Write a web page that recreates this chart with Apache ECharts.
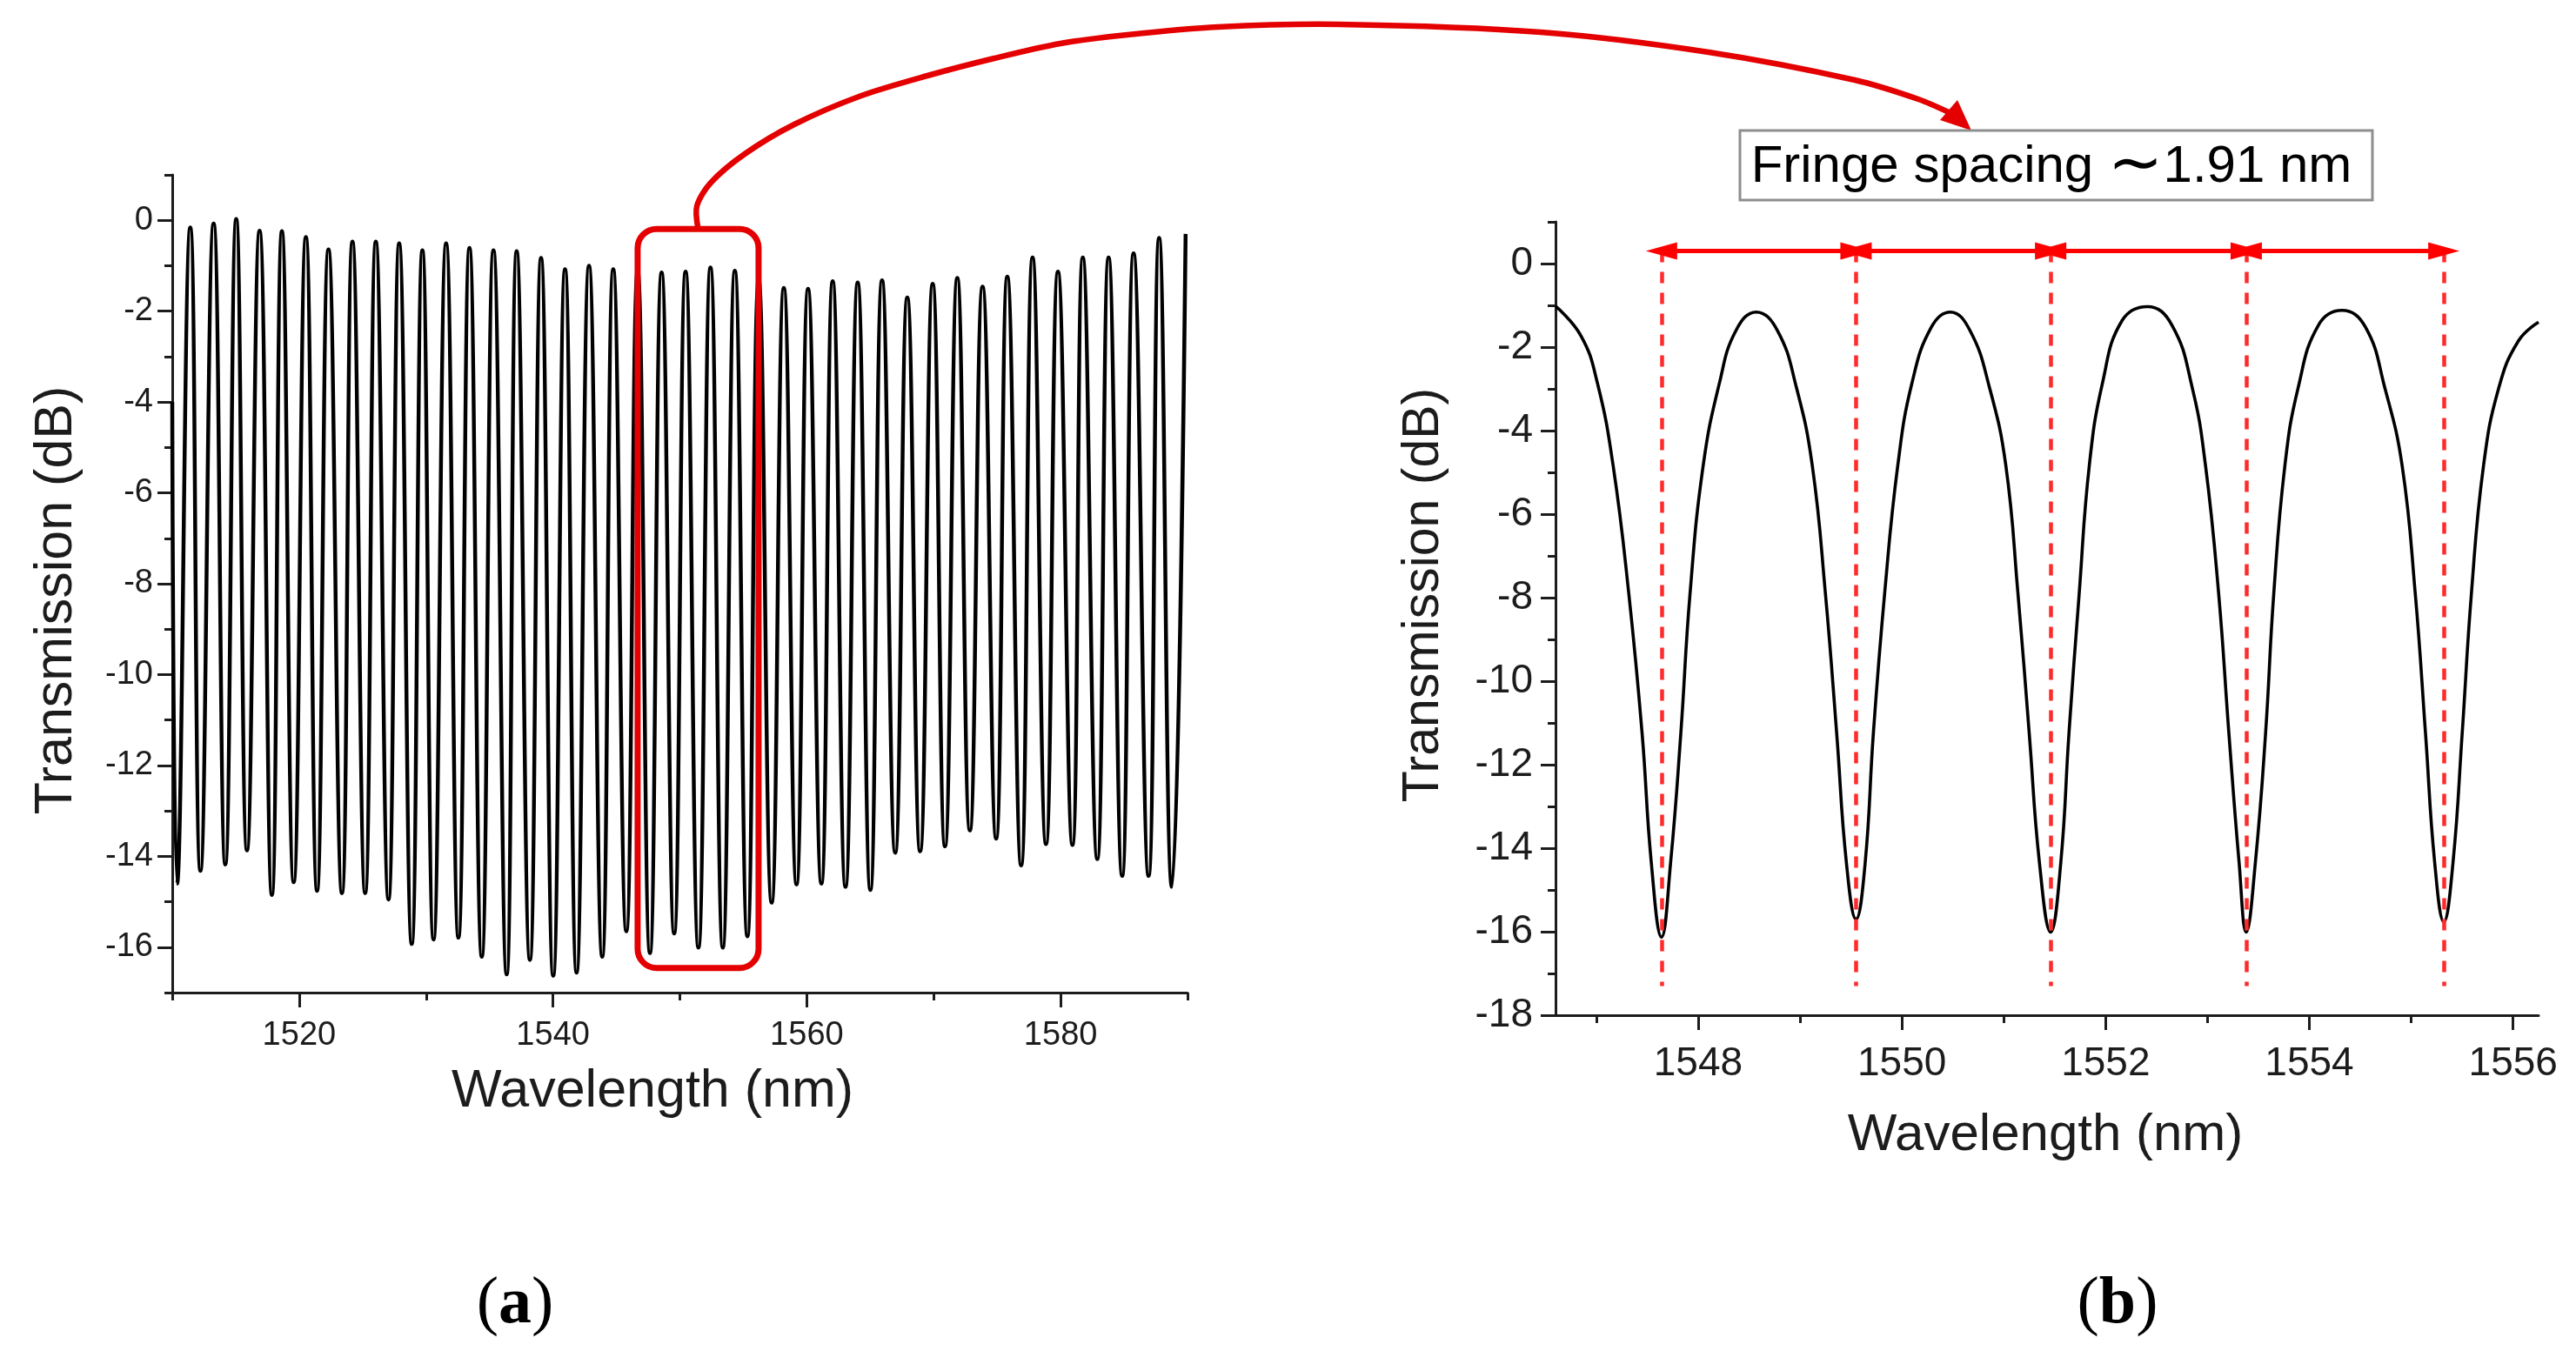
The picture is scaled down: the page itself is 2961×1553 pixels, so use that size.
<!DOCTYPE html>
<html>
<head>
<meta charset="utf-8">
<title>Transmission spectrum</title>
<script src="https://cdn.jsdelivr.net/npm/echarts@6/dist/echarts.min.js"></script>
<style>
  html, body { margin: 0; padding: 0; background: #fff; }
  #main { width: 2961px; height: 1553px; }
</style>
</head>
<body>
<div id="main"></div>
<script>
"use strict";

// (a) whole spectrum, fringe tops and bottoms
const peakWl = [1511.42, 1513.26, 1515.04, 1516.88, 1518.64, 1520.53, 1522.31, 1524.20, 1526.04, 1527.88,
  1529.71, 1531.58, 1533.42, 1535.31, 1537.14, 1539.06, 1540.95, 1542.84, 1544.75, 1546.67,
  1548.56, 1550.45, 1552.41, 1554.33, 1556.21, 1558.19, 1560.10, 1562.04, 1564.01, 1565.93,
  1567.92, 1569.92, 1571.86, 1573.85, 1575.80, 1577.79, 1579.79, 1581.75, 1583.78, 1585.75, 1587.76];
const peakDb = [-0.16, -0.07, 0.03, -0.23, -0.24, -0.37, -0.64, -0.47, -0.47, -0.51,
  -0.66, -0.51, -0.61, -0.66, -0.68, -0.83, -1.08, -1.00, -1.08, -1.10,
  -1.15, -1.13, -1.04, -1.11, -1.30, -1.49, -1.51, -1.34, -1.37, -1.32,
  -1.70, -1.40, -1.27, -1.46, -1.24, -0.82, -1.13, -0.82, -0.82, -0.73, -0.39];
const dipWl = [1510.38, 1512.22, 1514.18, 1515.89, 1517.85, 1519.57, 1521.41, 1523.37, 1525.20, 1527.04,
  1528.87, 1530.59, 1532.55, 1534.39, 1536.35, 1538.18, 1540.02, 1541.86, 1543.88, 1545.78,
  1547.64, 1549.55, 1551.46, 1553.38, 1555.32, 1557.23, 1559.19, 1561.15, 1563.05, 1565.01,
  1566.97, 1568.93, 1570.89, 1572.85, 1574.92, 1576.89, 1578.85, 1580.93, 1582.89, 1584.85,
  1586.93, 1588.77];
const dipDb = [-14.60, -14.32, -14.18, -13.87, -14.85, -14.57, -14.76, -14.81, -14.81, -14.95,
  -15.93, -15.83, -15.79, -16.21, -16.60, -16.28, -16.63, -16.56, -16.21, -15.65,
  -16.13, -15.70, -16.01, -16.01, -15.76, -15.02, -14.62, -14.60, -14.67, -14.74,
  -13.92, -13.89, -13.78, -13.43, -13.61, -14.20, -13.73, -13.75, -14.06, -14.43,
  -14.43, -14.67];
const edgeWl = [1510.0, 1589.85];
const edgeDb = [-4.0, -0.30];

// (b) close-up of 1546.6 - 1556.25 nm
const zoomWl = [1546.60, 1546.85, 1547.01, 1547.165, 1547.32, 1547.45, 1547.54, 1547.64, 1547.73, 1547.83,
  1547.92, 1548.05, 1548.21, 1548.37, 1548.57, 1548.78, 1548.965, 1549.12, 1549.25, 1549.36,
  1549.455, 1549.55, 1549.64, 1549.72, 1549.83, 1549.96, 1550.10, 1550.29, 1550.475, 1550.67,
  1550.86, 1551.02, 1551.14, 1551.25, 1551.35, 1551.46, 1551.56, 1551.64, 1551.74, 1551.84,
  1551.97, 1552.16, 1552.41, 1552.65, 1552.85, 1552.98, 1553.11, 1553.21, 1553.31, 1553.38,
  1553.47, 1553.57, 1553.65, 1553.76, 1553.89, 1554.09, 1554.32, 1554.55, 1554.74, 1554.91,
  1555.04, 1555.14, 1555.23, 1555.32, 1555.41, 1555.50, 1555.59, 1555.71, 1555.86, 1556.05, 1556.25];
const zoomDb = [-1.02, -1.73, -2.85, -4.83, -7.92, -11.25, -14.34, -16.13, -14.34, -11.25,
  -7.92, -4.83, -2.85, -1.61, -1.16, -1.61, -2.97, -4.83, -7.92, -11.25,
  -14.34, -15.70, -14.34, -11.25, -7.92, -4.83, -2.85, -1.52, -1.16, -1.61,
  -2.97, -4.83, -7.92, -11.25, -14.34, -16.01, -14.34, -11.25, -7.92, -4.83,
  -2.85, -1.37, -1.03, -1.47, -2.97, -4.83, -7.92, -11.25, -14.34, -16.01,
  -14.34, -11.25, -7.92, -4.83, -2.97, -1.47, -1.12, -1.52, -2.97, -4.83,
  -7.92, -11.25, -14.34, -15.76, -14.34, -11.25, -7.92, -4.83, -2.97, -1.86, -1.40];
const dipMarks = [1547.64, 1549.55, 1551.46, 1553.38, 1555.32];

// tick positions
const majorAx = [1520, 1540, 1560, 1580];
const minorAx = [1510, 1520, 1530, 1540, 1550, 1560, 1570, 1580, 1590];
const majorAy = [0, -2, -4, -6, -8, -10, -12, -14, -16];
const minorAy = [1, 0, -1, -2, -3, -4, -5, -6, -7, -8, -9, -10, -11, -12, -13, -14, -15, -16, -17];
const majorBx = [1548, 1550, 1552, 1554, 1556];
const minorBx = [1547, 1548, 1549, 1550, 1551, 1552, 1553, 1554, 1555, 1556];
const majorBy = [0, -2, -4, -6, -8, -10, -12, -14, -16, -18];
const minorBy = [1, 0, -1, -2, -3, -4, -5, -6, -7, -8, -9, -10, -11, -12, -13, -14, -15, -16, -17, -18];

const FONT = '"Liberation Sans", Arial, Helvetica, sans-serif';
const INK = '#1c1c1c';
const RED = '#e40000';

let pointsA = [[edgeWl[0], edgeDb[0]]];
dipWl.forEach(function (w, i) {
  pointsA.push([w, dipDb[i]]);
  if (i < peakWl.length) pointsA.push([peakWl[i], peakDb[i]]);
});
pointsA.push([edgeWl[1], edgeDb[1]]);

let pointsB = zoomWl.map(function (w, i) { return [w, zoomDb[i]]; });

function axisMajor(grid, pos, min, max, ticks, fontSize, margin) {
  return {
    type: 'value',
    gridIndex: grid,
    position: pos,
    min: min,
    max: max,
    axisLine: { show: true, onZero: false, lineStyle: { color: INK, width: 3 } },
    axisTick: { show: true, customValues: ticks, length: 17, lineStyle: { color: INK, width: 3 } },
    axisLabel: {
      customValues: ticks,
      fontSize: fontSize,
      fontFamily: FONT,
      color: INK,
      margin: margin,
      formatter: function (v) { return String(v); },
    },
    splitLine: { show: false },
  };
}

function axisMinor(grid, pos, min, max, ticks) {
  return {
    type: 'value',
    gridIndex: grid,
    position: pos,
    min: min,
    max: max,
    axisLine: { show: false, onZero: false },
    axisTick: { show: true, customValues: ticks, length: 9, lineStyle: { color: INK, width: 3 } },
    axisLabel: { show: false },
    splitLine: { show: false },
  };
}

let myChart = echarts.init(document.getElementById('main'));

let markData = dipMarks.map(function (w) {
  return [{ coord: [w, 0.3] }, { coord: [w, -17.3] }];
});
for (let i = 0; i < dipMarks.length - 1; i++) {
  markData.push([
    { coord: [dipMarks[i], 0.3], symbol: 'triangle', symbolSize: [20, 36],
      lineStyle: { type: 'solid', color: '#ff0000', width: 5 } },
    { coord: [dipMarks[i + 1], 0.3], symbol: 'triangle', symbolSize: [20, 36] },
  ]);
}

let option = {
  backgroundColor: '#fff',
  animation: false,
  grid: [
    { left: 198, top: 201, width: 1167, height: 940 },
    { left: 1788, top: 255, width: 1130, height: 912 },
  ],
  xAxis: [
    axisMajor(0, 'bottom', 1510, 1590, majorAx, 38, 31),
    axisMinor(0, 'bottom', 1510, 1590, minorAx),
    axisMajor(1, 'bottom', 1546.6, 1556.25, majorBx, 46, 33),
    axisMinor(1, 'bottom', 1546.6, 1556.25, minorBx),
  ],
  yAxis: [
    axisMajor(0, 'left', -17, 1, majorAy, 38, 22),
    axisMinor(0, 'left', -17, 1, minorAy),
    axisMajor(1, 'left', -18, 1, majorBy, 46, 26),
    axisMinor(1, 'left', -18, 1, minorBy),
  ],
  series: [
    {
      type: 'line',
      xAxisIndex: 0,
      yAxisIndex: 0,
      data: pointsA,
      showSymbol: false,
      smooth: 0.5,
      silent: true,
      lineStyle: { color: '#000', width: 4.5 },
    },
    {
      type: 'line',
      xAxisIndex: 2,
      yAxisIndex: 2,
      data: pointsB,
      showSymbol: false,
      smooth: 0.45,
      silent: true,
      lineStyle: { color: '#000', width: 3.6 },
      markLine: {
        silent: true,
        symbol: 'none',
        label: { show: false },
        lineStyle: { color: '#ff2a2a', width: 4.5, type: [13, 11] },
        emphasis: { disabled: true },
        data: markData,
      },
    },
  ],
};

myChart.setOption(option);

// decorations placed from the axes of panel (a)
let boxTL = myChart.convertToPixel({ seriesIndex: 0 }, [1546.67, -0.19]);
let boxBR = myChart.convertToPixel({ seriesIndex: 0 }, [1556.2, -16.46]);
let startX = (boxTL[0] + boxBR[0]) / 2;

myChart.setOption({
  graphic: [
    {
      type: 'rect',
      shape: { x: boxTL[0], y: boxTL[1], width: boxBR[0] - boxTL[0], height: boxBR[1] - boxTL[1], r: 22 },
      style: { fill: 'none', stroke: RED, lineWidth: 7 },
      z: 100,
    },
    {
      type: 'polyline',
      shape: {
        points: [[startX, boxTL[1]], [801, 237], [817, 210], [856, 177], [913, 143], [990, 110],
          [1066, 87], [1143, 67], [1219, 50], [1296, 40], [1400, 31], [1539, 28], [1771, 37],
          [1964, 60], [2132, 92], [2205, 114], [2242, 130]],
        smooth: 0.3,
      },
      style: { fill: 'none', stroke: RED, lineWidth: 6.5 },
      z: 100,
    },
    {
      type: 'polygon',
      shape: { points: [[2266, 150], [2230, 138], [2250, 115]] },
      style: { fill: RED },
      z: 100,
    },
    {
      type: 'rect',
      shape: { x: 2000, y: 150, width: 727, height: 80 },
      style: { fill: '#fff', stroke: '#8e8e8e', lineWidth: 3 },
      z: 100,
    },
    {
      type: 'text',
      x: 2358,
      y: 192,
      style: {
        text: 'Fringe spacing {s|∼}1.91 nm',
        font: '60px ' + FONT,
        fill: '#000',
        align: 'center',
        verticalAlign: 'middle',
        rich: { s: { fontSize: 76, fontFamily: '"DejaVu Sans", sans-serif', fill: '#000' } },
      },
      z: 101,
    },
    {
      type: 'text', x: 750, y: 1255,
      style: { text: 'Wavelength (nm)', font: '61px ' + FONT, fill: INK, align: 'center', verticalAlign: 'middle' },
    },
    {
      type: 'text', x: 65, y: 690, rotation: Math.PI / 2,
      style: { text: 'Transmission (dB)', font: '61px ' + FONT, fill: INK, align: 'center', verticalAlign: 'middle' },
    },
    {
      type: 'text', x: 2351, y: 1305,
      style: { text: 'Wavelength (nm)', font: '60px ' + FONT, fill: INK, align: 'center', verticalAlign: 'middle' },
    },
    {
      type: 'text', x: 1637, y: 684, rotation: Math.PI / 2,
      style: { text: 'Transmission (dB)', font: '59px ' + FONT, fill: INK, align: 'center', verticalAlign: 'middle' },
    },
    {
      type: 'text', x: 592, y: 1500,
      style: {
        text: '({b|a})', font: '76px "Liberation Serif", "Times New Roman", serif', fill: '#000',
        align: 'center', verticalAlign: 'middle',
        rich: { b: { fontWeight: 'bold', fontSize: 76, fontFamily: '"Liberation Serif", serif', fill: '#000' } },
      },
    },
    {
      type: 'text', x: 2434, y: 1500,
      style: {
        text: '({b|b})', font: '76px "Liberation Serif", "Times New Roman", serif', fill: '#000',
        align: 'center', verticalAlign: 'middle',
        rich: { b: { fontWeight: 'bold', fontSize: 76, fontFamily: '"Liberation Serif", serif', fill: '#000' } },
      },
    },
  ],
});
</script>
</body>
</html>
